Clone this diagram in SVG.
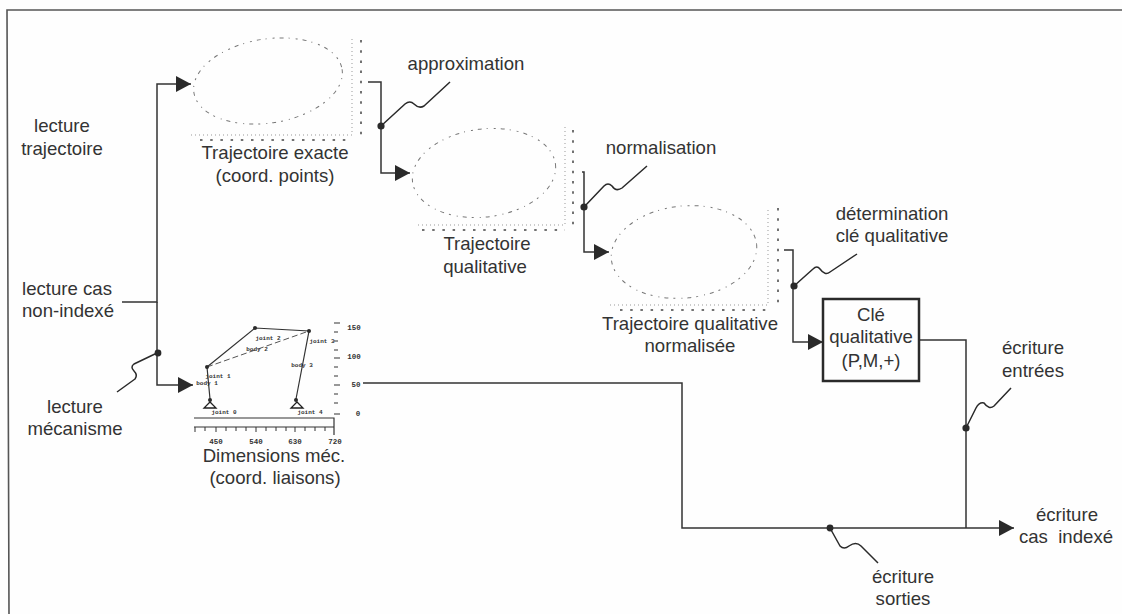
<svg xmlns="http://www.w3.org/2000/svg" width="1122" height="614" viewBox="0 0 1122 614">
<defs>
<style>
text{font-family:"Liberation Sans",Arial,sans-serif;font-size:18.6px;fill:#333;text-anchor:middle}
.t{font-family:"Liberation Mono",monospace;font-size:6px;font-weight:bold;fill:#333}
.n{font-family:"Liberation Mono",monospace;font-size:7.5px;font-weight:bold;fill:#333}
.w{fill:none;stroke:#333;stroke-width:1.5}
.z{fill:none;stroke:#2a2a2a;stroke-width:1.5;stroke-linejoin:round}
.e{fill:none;stroke:#777;stroke-width:1;stroke-dasharray:4 5 1 6 2 5}
.ax{fill:none;stroke:#999;stroke-width:1;stroke-dasharray:1 3}
.tk{fill:none;stroke:#444;stroke-width:1.5;stroke-dasharray:2.5 7.7}
.d{fill:#2a2a2a}
</style>
<marker id="a" markerUnits="userSpaceOnUse" markerWidth="18" markerHeight="18" refX="16" refY="9" orient="auto"><path d="M1 1L16 9L1 17Z" fill="#2a2a2a"/></marker>
</defs>
<rect width="1122" height="614" fill="#fefefe"/>
<path d="M9 614L7 10H1122" fill="none" stroke="#555" stroke-width="1.6"/>
<g id="connectors">
<path class="w" marker-end="url(#a)" d="M122 302H157V84H191"/>
<path class="w" marker-end="url(#a)" d="M157 302V385H193"/>
<path class="w" marker-end="url(#a)" d="M368 82H381V173H410"/>
<path class="w" marker-end="url(#a)" d="M582 172H584V252H609"/>
<path class="w" marker-end="url(#a)" d="M784 250H793V342H823"/>
<path class="w" d="M363 383H682V528H966"/>
<path class="w" d="M919 340H966V528"/>
<path class="w" marker-end="url(#a)" d="M966 528H1014"/>
<path class="z" d="M381 126L405 104Q410 100 414 104Q419 109 424 106L450 82"/>
<path class="z" d="M584 207L604 186Q608 182 612 186Q616 192 622 188L647 166"/>
<path class="z" d="M794 286L813 269Q817 265 820 269Q825 276 830 272L857 254"/>
<path class="z" d="M157 353L134 364Q130 367 134 371Q138 375 135 379L117 392"/>
<path class="z" d="M966 428L976 408Q979 402 984 403Q989 410 994 406L1011 388"/>
<path class="z" d="M830 528L840 546Q844 550 849 546Q856 541 861 546L878 563"/>
<circle class="d" cx="381" cy="126" r="3.6"/>
<circle class="d" cx="584" cy="207" r="3.6"/>
<circle class="d" cx="794" cy="286" r="3.6"/>
<circle class="d" cx="158" cy="353" r="3.4"/>
<circle class="d" cx="966" cy="428" r="3.6"/>
<circle class="d" cx="830" cy="528" r="3.4"/>
</g>
<g id="traj1">
<ellipse class="e" cx="268" cy="81" rx="75" ry="42" transform="rotate(-9 268 81)"/>
<path class="ax" d="M191 135H352V38"/><path class="tk" d="M200 140H352M361 40V135"/>
<text x="275" y="159">Trajectoire exacte</text><text x="275" y="182">(coord. points)</text>
</g>
<g id="traj2">
<ellipse class="e" cx="484" cy="173" rx="72" ry="44" transform="rotate(-7 484 173)"/>
<path class="ax" d="M418 225H565V125"/><path class="tk" d="M422 230H565M573 130V225"/>
<text x="487" y="250">Trajectoire</text><text x="485" y="273">qualitative</text>
</g>
<g id="traj3">
<ellipse class="e" cx="684" cy="252" rx="73" ry="46" transform="rotate(-6 684 252)"/>
<path class="ax" d="M610 305H768V207"/><path class="tk" d="M620 310H768M778 208V303"/>
<text x="690" y="330">Trajectoire qualitative</text><text x="690" y="352">normalisée</text>
</g>
<g id="mecanisme">
<path d="M207 367L255 328L309 331L296 399M207 367L210 399" fill="none" stroke="#333" stroke-width="1.2"/>
<path d="M207 367L309 331" fill="none" stroke="#555" stroke-dasharray="6 3"/>
<circle class="d" cx="207" cy="367" r="2"/><circle class="d" cx="255" cy="328" r="2"/><circle class="d" cx="309" cy="331" r="2"/><circle class="d" cx="210" cy="400" r="2"/><circle class="d" cx="296" cy="400" r="2"/>
<path d="M210 402L204 408H216ZM297 402L291 408H303Z" fill="#fff" stroke="#222" stroke-width="1.3"/>
<path d="M194 418H334V435M194 427H334" fill="none" stroke="#333" stroke-width="1.2"/>
<path d="M195 427V432M205 427V431M216 427V432M226 427V431M236 427V431M246 427V431M256 427V432M266 427V431M276 427V431M286 427V431M295 427V432M305 427V431M315 427V431M325 427V431" fill="none" stroke="#333"/>
<path d="M334 323H340M334 332H338M334 341H338M334 350H338M334 358H340M334 367H338M334 376H338M334 385H340M334 394H338M334 403H338M334 414H340" fill="none" stroke="#333" stroke-width="1.2"/>
<text class="t" x="207" y="385">body 1</text><text class="t" x="257" y="351">body 2</text><text class="t" x="302" y="367">body 3</text>
<text class="t" x="218" y="378">joint 1</text><text class="t" x="268" y="340">joint 2</text><text class="t" x="322" y="343">joint 3</text><text class="t" x="224" y="414">joint 0</text><text class="t" x="310" y="414">joint 4</text>
<text class="n" x="354" y="330">150</text><text class="n" x="354" y="359">100</text><text class="n" x="356" y="387">50</text><text class="n" x="358" y="416">0</text>
<text class="n" x="216" y="444">450</text><text class="n" x="256" y="444">540</text><text class="n" x="295" y="444">630</text><text class="n" x="335" y="444">720</text>
<text x="274" y="462">Dimensions méc.</text><text x="275" y="484">(coord. liaisons)</text>
</g>
<g id="cle">
<rect x="823" y="299" width="96" height="82" fill="#fefefe" stroke="#2a2a2a" stroke-width="2.5"/>
<text x="871" y="321">Clé</text><text x="871" y="343">qualitative</text><text x="871" y="367">(P,M,+)</text>
</g>
<g id="labels">
<text x="62" y="132">lecture</text><text x="62" y="155">trajectoire</text>
<text x="67" y="295">lecture cas</text><text x="68" y="317">non-indexé</text>
<text x="75" y="413">lecture</text><text x="75" y="435">mécanisme</text>
<text x="466" y="70">approximation</text>
<text x="661" y="154">normalisation</text>
<text x="892" y="220">détermination</text><text x="892" y="242">clé qualitative</text>
<text x="1033" y="354">écriture</text><text x="1033" y="377">entrées</text>
<text x="1067" y="521">écriture</text><text x="1066" y="543" xml:space="preserve">cas  indexé</text>
<text x="903" y="583">écriture</text><text x="903" y="605">sorties</text>
</g>
</svg>
